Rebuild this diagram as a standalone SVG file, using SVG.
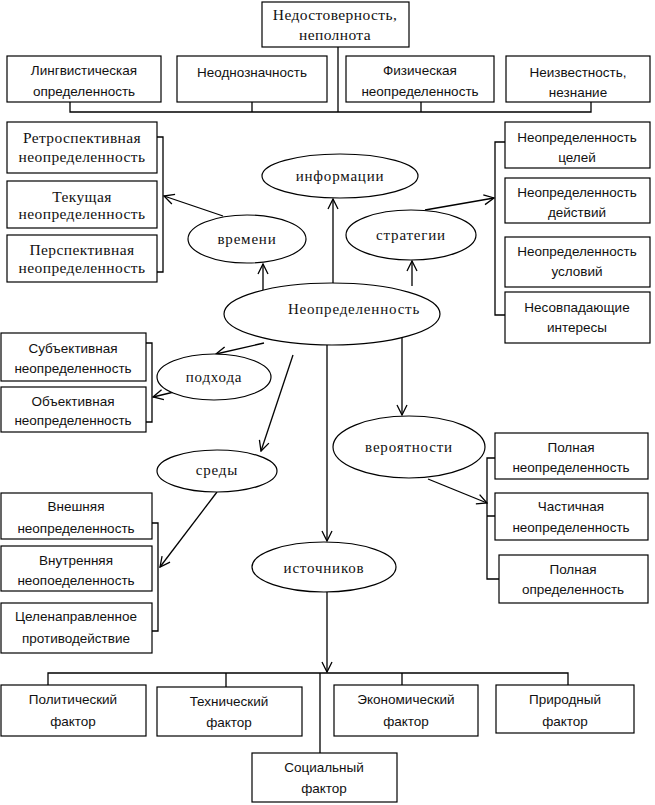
<svg xmlns="http://www.w3.org/2000/svg" width="655" height="805" viewBox="0 0 655 805">
<style>
rect{fill:#fff;stroke:#000;stroke-width:1.2}
ellipse{fill:#fff;stroke:#000;stroke-width:1.2}
.c line,.c path{fill:none;stroke:#000;stroke-width:1.3}
text{text-anchor:middle;fill:#111}
.s{font-family:"Liberation Sans",Arial,sans-serif;font-size:13.5px}
.r{font-family:"Liberation Serif","Times New Roman",serif;font-size:15.5px;letter-spacing:0.4px}
.e{font-family:"Liberation Serif","Times New Roman",serif;font-size:15px;letter-spacing:0.8px}
</style>
<defs>
<marker id="a" markerWidth="12" markerHeight="12" refX="11" refY="6" orient="auto" markerUnits="userSpaceOnUse">
<path d="M1,1 L11,6 L1,11" fill="none" stroke="#000" stroke-width="1.3"/>
</marker>
</defs>
<g class="c" id="connectors">
<line x1="338" y1="47" x2="338" y2="112"/>
<path d="M70,102 V112 H591 V102 M252,102 V112 M421,102 V112"/>
<path d="M157,137 H163 V272 H157"/>
<line x1="223" y1="216" x2="164" y2="196" marker-end="url(#a)"/>
<line x1="263" y1="292" x2="263" y2="264" marker-end="url(#a)"/>
<line x1="333" y1="290" x2="333" y2="199" marker-end="url(#a)"/>
<line x1="412" y1="286" x2="412" y2="261" marker-end="url(#a)"/>
<line x1="425" y1="210" x2="494" y2="198" marker-end="url(#a)"/>
<path d="M505,142 H495 V315 H505"/>
<line x1="264" y1="343" x2="216" y2="354" marker-end="url(#a)"/>
<line x1="174" y1="392" x2="153" y2="397" marker-end="url(#a)"/>
<path d="M146,343 H152 V422 H146"/>
<line x1="293" y1="355" x2="261" y2="451" marker-end="url(#a)"/>
<line x1="217" y1="492" x2="160" y2="567" marker-end="url(#a)"/>
<path d="M152,523 H158 V631 H152"/>
<line x1="327" y1="345" x2="327" y2="541" marker-end="url(#a)"/>
<line x1="402" y1="338" x2="402" y2="415" marker-end="url(#a)"/>
<line x1="428" y1="479" x2="487" y2="503" marker-end="url(#a)"/>
<path d="M495,458 H487 V579 H499 M487,516 H495"/>
<line x1="327" y1="592" x2="327" y2="672" marker-end="url(#a)"/>
<path d="M48,685 V673 H568 V685 M226,673 V687 M402,673 V685 M320,673 V753"/>
</g>
<g id="n-top"><rect x="262" y="2" width="147" height="45"/><text class="r" x="335" y="20">Недостоверность,</text><text class="r" x="335" y="40">неполнота</text></g>
<g id="n-ling"><rect x="7" y="56" width="154" height="46"/><text class="s" x="84" y="75">Лингвистическая</text><text class="s" x="84" y="96">определенность</text></g>
<g id="n-neodn"><rect x="177" y="56" width="150" height="46"/><text class="s" x="252" y="77">Неоднозначность</text></g>
<g id="n-fiz"><rect x="346" y="56" width="148" height="46"/><text class="s" x="420" y="75">Физическая</text><text class="s" x="420" y="96">неопределенность</text></g>
<g id="n-neizv"><rect x="506" y="56" width="144" height="46"/><text class="s" x="578" y="77">Неизвестность,</text><text class="s" x="578" y="97">незнание</text></g>

<g id="n-retro"><rect x="7" y="122" width="150" height="51"/><text class="r" x="82" y="143">Ретроспективная</text><text class="r" x="82" y="162">неопределенность</text></g>
<g id="n-tek"><rect x="7" y="181" width="150" height="47"/><text class="r" x="82" y="202">Текущая</text><text class="r" x="82" y="219">неопределенность</text></g>
<g id="n-persp"><rect x="7" y="235" width="150" height="47"/><text class="r" x="82" y="255">Перспективная</text><text class="r" x="82" y="273">неопределенность</text></g>

<g id="n-vremeni"><ellipse cx="247" cy="239" rx="59" ry="24"/><text class="e" x="247" y="244">времени</text></g>
<g id="n-inform"><ellipse cx="340" cy="176" rx="78" ry="22"/><text class="e" x="340" y="181">информации</text></g>
<g id="n-strat"><ellipse cx="411" cy="235" rx="65" ry="25"/><text class="e" x="411" y="240">стратегии</text></g>

<g id="n-celey"><rect x="505" y="122" width="145" height="46"/><text class="s" x="577" y="142">Неопределенность</text><text class="s" x="577" y="162">целей</text></g>
<g id="n-deyst"><rect x="505" y="178" width="145" height="45"/><text class="s" x="577" y="197">Неопределенность</text><text class="s" x="577" y="217">действий</text></g>
<g id="n-usl"><rect x="505" y="237" width="145" height="50"/><text class="s" x="577" y="256">Неопределенность</text><text class="s" x="577" y="276">условий</text></g>
<g id="n-nesovp"><rect x="505" y="292" width="145" height="51"/><text class="s" x="577" y="312">Несовпадающие</text><text class="s" x="577" y="332">интересы</text></g>

<g id="n-main"><ellipse cx="332" cy="314" rx="108" ry="31"/><text class="e" x="354" y="314">Неопределенность</text></g>

<g id="n-podhoda"><ellipse cx="214" cy="377" rx="57" ry="23"/><text class="e" x="214" y="382">подхода</text></g>
<g id="n-subj"><rect x="1" y="333" width="145" height="48"/><text class="s" x="73" y="353">Субъективная</text><text class="s" x="73" y="373">неопределенность</text></g>
<g id="n-obj"><rect x="1" y="387" width="145" height="45"/><text class="s" x="73" y="406">Объективная</text><text class="s" x="73" y="425">неопределенность</text></g>

<g id="n-sredy"><ellipse cx="217" cy="471" rx="60" ry="21"/><text class="e" x="217" y="475">среды</text></g>
<g id="n-vnesh"><rect x="1" y="493" width="151" height="46"/><text class="s" x="76" y="511">Внешняя</text><text class="s" x="76" y="533">неопределенность</text></g>
<g id="n-vnutr"><rect x="1" y="546" width="151" height="45"/><text class="s" x="76" y="565">Внутренняя</text><text class="s" x="76" y="585">неопоеделенность</text></g>
<g id="n-celen"><rect x="1" y="603" width="151" height="50"/><text class="s" x="76" y="621">Целенаправленное</text><text class="s" x="76" y="643">противодействие</text></g>

<g id="n-veroyat"><ellipse cx="409" cy="447" rx="76" ry="31"/><text class="e" x="409" y="452">вероятности</text></g>
<g id="n-polnaya"><rect x="495" y="433" width="153" height="46"/><text class="s" x="571" y="452">Полная</text><text class="s" x="571" y="472">неопределенность</text></g>
<g id="n-chast"><rect x="495" y="493" width="153" height="47"/><text class="s" x="571" y="511">Частичная</text><text class="s" x="571" y="532">неопределенность</text></g>
<g id="n-polnopr"><rect x="499" y="555" width="149" height="48"/><text class="s" x="573" y="574">Полная</text><text class="s" x="573" y="594">определенность</text></g>

<g id="n-istoch"><ellipse cx="324" cy="567" rx="72" ry="25"/><text class="e" x="324" y="573">источников</text></g>

<g id="n-polit"><rect x="1" y="685" width="145" height="51"/><text class="s" x="73" y="704">Политический</text><text class="s" x="73" y="726">фактор</text></g>
<g id="n-tehn"><rect x="157" y="687" width="145" height="49"/><text class="s" x="229" y="706">Технический</text><text class="s" x="229" y="727">фактор</text></g>
<g id="n-ekon"><rect x="334" y="685" width="144" height="51"/><text class="s" x="406" y="704">Экономический</text><text class="s" x="406" y="726">фактор</text></g>
<g id="n-prir"><rect x="496" y="685" width="138" height="48"/><text class="s" x="565" y="704">Природный</text><text class="s" x="565" y="726">фактор</text></g>
<g id="n-soc"><rect x="252" y="753" width="145" height="49"/><text class="s" x="324" y="772">Социальный</text><text class="s" x="324" y="793">фактор</text></g>
</svg>
